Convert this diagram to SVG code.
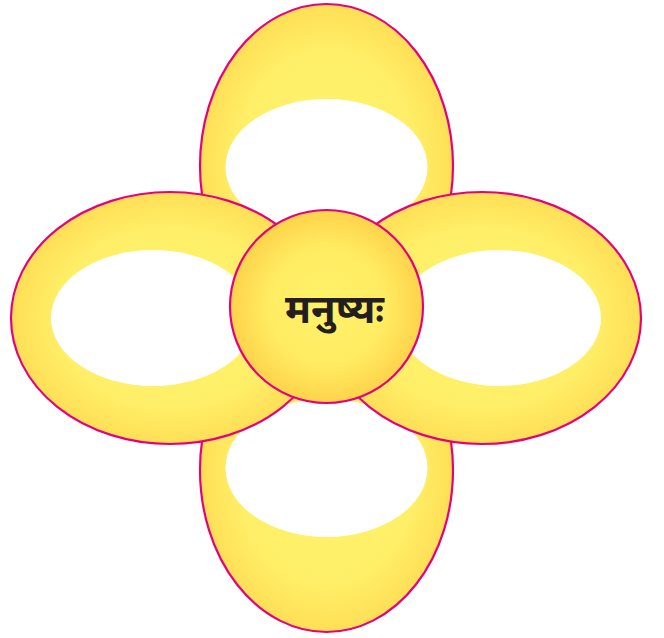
<svg xmlns="http://www.w3.org/2000/svg" width="664" height="638" viewBox="0 0 664 638">
  <defs>
    <radialGradient id="petal" cx="50%" cy="50%" r="50%">
      <stop offset="0" stop-color="#FFF36C"/>
      <stop offset="0.7" stop-color="#FFEF68"/>
      <stop offset="1" stop-color="#FEDF56"/>
    </radialGradient>
    <radialGradient id="core" cx="50%" cy="50%" r="50%">
      <stop offset="0" stop-color="#FFF26B"/>
      <stop offset="0.6" stop-color="#FFEC62"/>
      <stop offset="1" stop-color="#FED34A"/>
    </radialGradient>
  </defs>
  <style>
    .outer { fill: url(#petal); stroke: #E6007E; stroke-width: 2.2; }
    .inner { fill: #FFFFFF; }
    .core { fill: url(#core); stroke: #E6007E; stroke-width: 2.2; }
    .label { font-family: "Noto Sans Devanagari", "Lohit Devanagari", "Noto Sans", "DejaVu Sans", sans-serif; font-weight: bold; font-size: 40px; fill: #231F20; }
  </style>
  <g id="petal-top">
    <ellipse class="outer" cx="326.5" cy="166" rx="126.5" ry="162"/>
    <ellipse class="inner" cx="326.5" cy="167" rx="101" ry="68"/>
  </g>
  <g id="petal-bottom">
    <ellipse class="outer" cx="326.5" cy="470" rx="126.5" ry="162"/>
    <ellipse class="inner" cx="326.5" cy="468" rx="101" ry="69"/>
  </g>
  <g id="petal-left">
    <ellipse class="outer" cx="170" cy="318" rx="159" ry="126"/>
    <ellipse class="inner" cx="153" cy="318" rx="102" ry="68"/>
  </g>
  <g id="petal-right">
    <ellipse class="outer" cx="482" cy="318" rx="159" ry="126"/>
    <ellipse class="inner" cx="499" cy="318" rx="102" ry="68"/>
  </g>
  <g id="center">
    <circle class="core" cx="326.5" cy="306.5" r="96.5"/>
    <text class="label" x="334.5" y="323" text-anchor="middle">मनुष्यः</text>
  </g>
  <g id="connectors"/>
</svg>
